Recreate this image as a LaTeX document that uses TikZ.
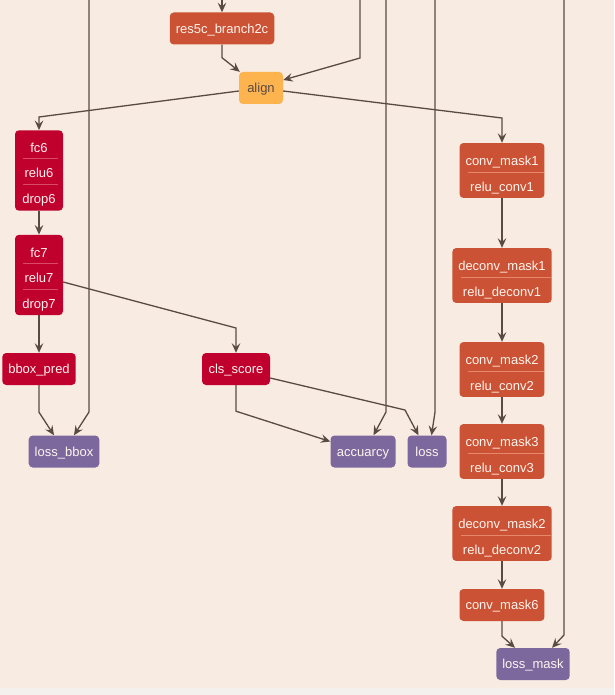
\documentclass[tikz,border=0pt]{standalone}
\usepackage{fontspec}
\setmainfont{Liberation Sans}
\usetikzlibrary{shapes.multipart,arrows.meta}

\definecolor{bgc}{HTML}{F8EBE1}
\definecolor{bandc}{HTML}{F3F0EE}
\definecolor{crim}{HTML}{C0002D}
\definecolor{rust}{HTML}{CB5234}
\definecolor{gold}{HTML}{FDB44E}
\definecolor{plum}{HTML}{7D689E}
\definecolor{edgec}{HTML}{5A4A44}
\definecolor{sepcrim}{HTML}{DA4A68}
\definecolor{seprust}{HTML}{E6876A}
\definecolor{labc}{HTML}{FFF4EE}

%% row struts for the stacked layers
\newcommand{\toprow}{\rule[-2pt]{0pt}{20pt}}
\newcommand{\subrow}{\rule[-2.5pt]{0pt}{17.5pt}}

\tikzset{
  lay/.style={rectangle, rounded corners=4pt, text=labc, inner xsep=6pt, inner ysep=4pt,
    minimum height=32, text height=11pt, text depth=1.5pt, font=\fontsize{13}{15}\selectfont},
  crimlay/.style={lay, fill=crim},
  rustlay/.style={lay, fill=rust},
  plumlay/.style={lay, fill=plum},
  goldlay/.style={lay, fill=gold, text=edgec},
  multi/.style={rectangle split, rectangle split parts=#1, text height=, text depth=},
  edge/.style={draw=edgec, line width=1.3pt, -{Stealth[length=9.5pt,width=8.5pt,inset=3.5pt]}},
  sep/.style={line width=0.8pt, draw=#1}
}

\begin{document}
\begin{tikzpicture}[x=1pt,y=-1pt]
  \useasboundingbox (0,0) rectangle (614,695);
  \fill[bgc] (0,0) rectangle (614,688);
  \fill[bandc] (0,688) rectangle (614,695);

  %% trunk
  \node (RES5C) at (222,28.5) [rustlay,minimum width=102] {res5c\_branch2c};
  \node (ALIGN) at (261,88) [goldlay,minimum width=44] {align};

  %% box head
  \node (FC6) at (39,170.5) [crimlay,multi=3,minimum width=48]
    {\toprow fc6 \nodepart{two}\subrow relu6 \nodepart{three}\subrow drop6};
  \node (FC7) at (39,275) [crimlay,multi=3,minimum width=48]
    {\toprow fc7 \nodepart{two}\subrow relu7 \nodepart{three}\subrow drop7};
  \node (BBOX) at (39,369) [crimlay,minimum width=73] {bbox\_pred};
  \node (CLS) at (236,369) [crimlay,minimum width=68] {cls\_score};
  \node (LBBOX) at (64,451.5) [plumlay,minimum width=70] {loss\_bbox};
  \node (ACC) at (363,451.5) [plumlay,minimum width=65] {accuarcy};
  \node (LOSS) at (427,451.5) [plumlay,minimum width=39] {loss};

  %% mask head
  \node (CM1) at (502,170.5) [rustlay,multi=2,minimum width=83]
    {\toprow conv\_mask1 \nodepart{two}\subrow relu\_conv1};
  \node (DCM1) at (502,275.5) [rustlay,multi=2,minimum width=96]
    {\toprow deconv\_mask1 \nodepart{two}\subrow relu\_deconv1};
  \node (CM2) at (502,369.5) [rustlay,multi=2,minimum width=83]
    {\toprow conv\_mask2 \nodepart{two}\subrow relu\_conv2};
  \node (CM3) at (502,451.5) [rustlay,multi=2,minimum width=83]
    {\toprow conv\_mask3 \nodepart{two}\subrow relu\_conv3};
  \node (DCM2) at (502,533.5) [rustlay,multi=2,minimum width=96]
    {\toprow deconv\_mask2 \nodepart{two}\subrow relu\_deconv2};
  \node (CM6) at (502,605) [rustlay,minimum width=83] {conv\_mask6};
  \node (LMASK) at (533,664) [plumlay,minimum width=72] {loss\_mask};

  %% splits inside the stacked layers
  \draw[sep=sepcrim] ([xshift=8pt]FC6.text split west) -- ([xshift=-5pt]FC6.text split east);
  \draw[sep=sepcrim] ([xshift=8pt]FC6.two split west) -- ([xshift=-5pt]FC6.two split east);
  \draw[sep=sepcrim] ([xshift=8pt]FC7.text split west) -- ([xshift=-5pt]FC7.text split east);
  \draw[sep=sepcrim] ([xshift=8pt]FC7.two split west) -- ([xshift=-5pt]FC7.two split east);
  \draw[sep=seprust] ([xshift=9pt]CM1.text split west) -- ([xshift=-1pt]CM1.text split east);
  \draw[sep=seprust] ([xshift=9pt]DCM1.text split west) -- ([xshift=-1pt]DCM1.text split east);
  \draw[sep=seprust] ([xshift=9pt]CM2.text split west) -- ([xshift=-1pt]CM2.text split east);
  \draw[sep=seprust] ([xshift=9pt]CM3.text split west) -- ([xshift=-1pt]CM3.text split east);
  \draw[sep=seprust] ([xshift=9pt]DCM2.text split west) -- ([xshift=-1pt]DCM2.text split east);

  %% lines coming in from above
  \coordinate (IN0) at (222,0);
  \coordinate (IN1) at (360,0);
  \coordinate (IN2) at (89,0);
  \coordinate (IN3) at (386,0);
  \coordinate (IN4) at (435,0);
  \coordinate (IN5) at (564,0);

  \draw[edge] (IN0) -- (RES5C);
  \draw[edge] (RES5C.south) -- ++(0,13) -- ([xshift=1pt]ALIGN.north west);
  \draw[edge] (IN1) -- (360,58) -- ([yshift=8pt]ALIGN.east);
  \draw[edge] ([yshift=-3pt]ALIGN.west) -- (39,117) -- (FC6.north);
  \draw[edge] ([yshift=-3pt]ALIGN.east) -- (502,118) -- (CM1.north);

  \draw[edge] (FC6) -- (FC7);
  \draw[edge] (FC7.south) -- (FC7.south |- BBOX.north);
  \draw[edge] ([yshift=-7pt]FC7.east) -- (236,328) -- (CLS.north);
  \draw[edge] (BBOX.south) -- ++(0,27) -- ([xshift=-10pt]LBBOX.north);
  \draw[edge] (IN2) -- (89,412) -- ([xshift=10pt]LBBOX.north);
  \draw[edge] (CLS.south) -- ++(0,26) -- ([yshift=10pt]ACC.west);
  \draw[edge] ([yshift=-9pt]CLS.east) -- (405,410) -- ([xshift=-8.5pt]LOSS.north);
  \draw[edge] (IN3) -- (386,412) -- ([xshift=10.5pt]ACC.north);
  \draw[edge] (IN4) -- (435,412) -- ([xshift=4.5pt]LOSS.north);

  \draw[edge] (CM1) -- (DCM1);
  \draw[edge] (DCM1) -- (CM2);
  \draw[edge] (CM2) -- (CM3);
  \draw[edge] (CM3) -- (DCM2);
  \draw[edge] (DCM2) -- (CM6);
  \draw[edge] (CM6.south) -- ++(0,15) -- ([xshift=-18pt]LMASK.north);
  \draw[edge] (IN5) -- (564,635) -- ([xshift=19pt]LMASK.north);
\end{tikzpicture}
\end{document}
